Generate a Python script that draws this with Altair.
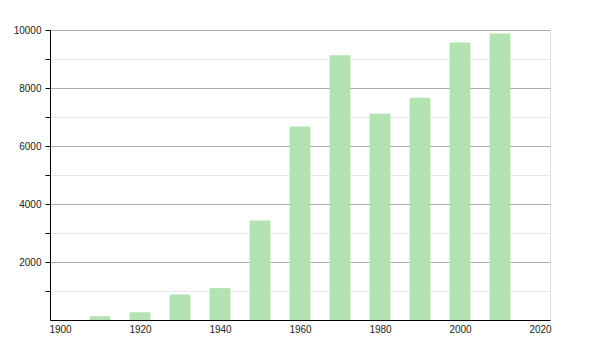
import altair as alt
import pandas as pd

years = [1910, 1920, 1930, 1940, 1950, 1960, 1970, 1980, 1990, 2000, 2010]
population = [130, 270, 880, 1100, 3430, 6670, 9130, 7110, 7660, 9570, 9880]
x_ticks = [1900, 1920, 1940, 1960, 1980, 2000, 2020]
y_ticks = [1000, 2000, 3000, 4000, 5000, 6000, 7000, 8000, 9000, 10000]

df = pd.DataFrame({"year": years, "value": population})

bars = (
    alt.Chart(df)
    .transform_calculate(x0="datum.year - 2.6", x1="datum.year + 2.6")
    .mark_bar(color="#b3e3b2")
    .encode(
        x=alt.X(
            "x0:Q",
            scale=alt.Scale(domain=[1897.5, 2022.5], nice=False, zero=False),
            axis=alt.Axis(
                values=x_ticks,
                format="d",
                ticks=False,
                grid=False,
                domainColor="black",
                labelPadding=4,
                labelFontSize=10,
                labelColor="#222",
                title=None,
            ),
        ),
        x2="x1:Q",
        y=alt.Y(
            "value:Q",
            scale=alt.Scale(domain=[0, 10000], nice=False),
            axis=alt.Axis(
                values=y_ticks,
                format="d",
                labelExpr="datum.value % 2000 == 0 ? datum.label : ''",
                gridColor={
                    "condition": {"test": "datum.value % 2000 == 0", "value": "#adadad"},
                    "value": "#e6e6e6",
                },
                tickColor="black",
                tickSize=5,
                domainColor="black",
                labelPadding=4,
                labelFontSize=10,
                labelColor="#222",
                title=None,
            ),
        ),
        y2=alt.datum(0),
    )
)

chart = (
    bars.properties(
        width=500,
        height=290,
        autosize=alt.AutoSizeParams(type="none"),
        padding={"left": 50, "top": 30, "right": 50, "bottom": 30},
    )
    .configure_view(stroke="transparent", strokeWidth=0)
    .configure(font="Liberation Sans", background="white")
)

chart.save("out.html", embed_options={"renderer": "svg", "actions": False})
